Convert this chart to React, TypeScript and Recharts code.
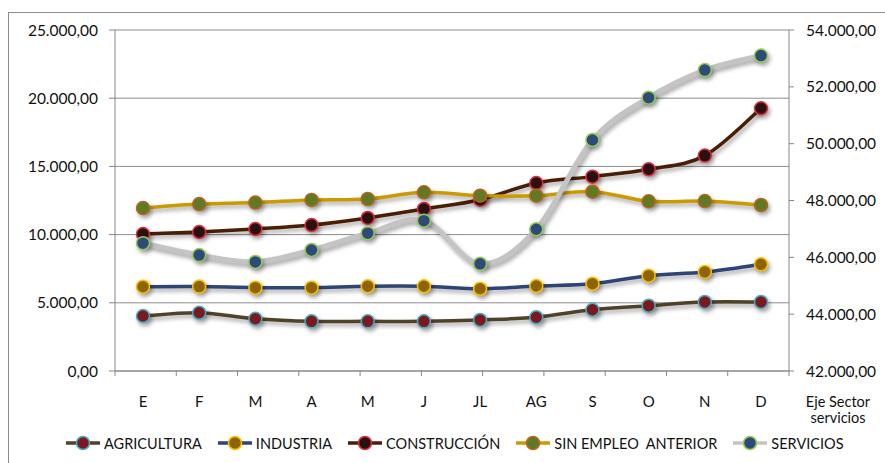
import React from 'react';
import { LineChart, Line, XAxis, YAxis, CartesianGrid } from 'recharts';

const months = ['E', 'F', 'M', 'A', 'M', 'J', 'JL', 'AG', 'S', 'O', 'N', 'D'];
const agricultura = [4030, 4270, 3830, 3640, 3640, 3640, 3740, 3940, 4490, 4790, 5060, 5060];
const industria = [6180, 6190, 6110, 6110, 6210, 6210, 6030, 6230, 6400, 6990, 7260, 7820];
const construccion = [10040, 10190, 10410, 10700, 11220, 11880, 12560, 13780, 14250, 14790, 15790, 19260];
const sinEmpleo = [11950, 12240, 12350, 12540, 12610, 13100, 12850, 12850, 13150, 12440, 12460, 12170];
const servicios = [46500, 46080, 45840, 46260, 46850, 47290, 45770, 46990, 50130, 51620, 52590, 53100];

const leftTicks = [0, 5000, 10000, 15000, 20000, 25000];
const rightTicks = [42000, 44000, 46000, 48000, 50000, 52000, 54000];
const boundaryTicks = [0, 1, 2, 3, 4, 5, 6, 7, 8, 9, 10, 11, 12];

const data = months.map((m, i) => ({
  m,
  agricultura: agricultura[i],
  industria: industria[i],
  construccion: construccion[i],
  sinEmpleo: sinEmpleo[i],
  servicios: servicios[i],
}));

const series = [
  { key: 'agricultura', name: 'AGRICULTURA', line: '#4f4228', fill: '#7a1a1e', stroke: '#4bacc6', width: 3.5, axis: 'left' },
  { key: 'industria', name: 'INDUSTRIA', line: '#2c4477', fill: '#8c6500', stroke: '#ffc000', width: 3.5, axis: 'left' },
  { key: 'construccion', name: 'CONSTRUCCIÓN', line: '#4a1e05', fill: '#2a1010', stroke: '#e03040', width: 3.5, axis: 'left' },
  { key: 'sinEmpleo', name: 'SIN EMPLEO  ANTERIOR', line: '#cc9900', fill: '#5f7a22', stroke: '#b5651d', width: 3.5, axis: 'left' },
  { key: 'servicios', name: 'SERVICIOS', line: '#c4c4c4', fill: '#2f4a7a', stroke: '#92d050', width: 5, axis: 'right' },
];

function fmt(v: number): string {
  const s = Math.round(v).toString();
  const withDots = s.replace(/\B(?=(\d{3})+(?!\d))/g, '.');
  return withDots + ',00';
}

// Excel-like smoothing (uniform Catmull-Rom as cubic Bezier)
const excelCurve: any = (context: any) => {
  let pts: number[][] = [];
  return {
    areaStart() {},
    areaEnd() {},
    lineStart() {
      pts = [];
    },
    lineEnd() {
      if (!pts.length) return;
      context.moveTo(pts[0][0], pts[0][1]);
      for (let i = 0; i < pts.length - 1; i++) {
        const p0 = pts[i - 1] || pts[i];
        const p1 = pts[i];
        const p2 = pts[i + 1];
        const p3 = pts[i + 2] || p2;
        const c1x = p1[0] + (p2[0] - p0[0]) / 6;
        const c1y = p1[1] + (p2[1] - p0[1]) / 6;
        const c2x = p2[0] - (p3[0] - p1[0]) / 6;
        const c2y = p2[1] - (p3[1] - p1[1]) / 6;
        context.bezierCurveTo(c1x, c1y, c2x, c2y, p2[0], p2[1]);
      }
    },
    point(x: number, y: number) {
      pts.push([+x, +y]);
    },
  };
};

const FONT = 'Lato, "Open Sans", sans-serif';
const axisColor = '#868686';
const textColor = '#111';

export default function App() {
  return (
    <div style={{ position: 'relative', width: 885, height: 463, overflow: 'hidden', background: '#fff', fontFamily: FONT }}>
      <style>{`body{margin:0;} .recharts-line .recharts-curve, .recharts-line-dots { filter: drop-shadow(2px 3px 2px rgba(0,0,0,0.35)); }`}</style>
      <div style={{ position: 'absolute', left: 8, top: 12, width: 1000, height: 1000, borderLeft: '1px solid #8c8c8c', borderTop: '1px solid #8c8c8c' }} />
      <div style={{ position: 'absolute', left: 0, top: 0 }}>
        <LineChart width={885} height={463} data={data} margin={{ top: 30, right: 0, left: 0, bottom: 52 }}>
          <CartesianGrid yAxisId="left" vertical={false} stroke="#8c8c8c" strokeWidth={1} />
          <XAxis
            type="number"
            domain={[0, 12]}
            ticks={boundaryTicks}
            tick={() => <g />}
            height={1}
            axisLine={{ stroke: axisColor }}
            tickLine={{ stroke: axisColor }}
            tickSize={5}
            allowDataOverflow
          />
          <XAxis
            xAxisId="cat"
            dataKey="m"
            padding={{ left: 28, right: 28 }}
            height={39}
            axisLine={false}
            tickLine={false}
            tickMargin={18}
            tick={{ fill: textColor, fontSize: 15, fontFamily: FONT }}
            interval={0}
          />
          <YAxis
            yAxisId="left"
            width={115}
            domain={[0, 25000]}
            ticks={leftTicks}
            tickFormatter={fmt}
            axisLine={{ stroke: axisColor }}
            tickLine={{ stroke: axisColor }}
            tickSize={6}
            tickMargin={11}
            tick={{ fill: textColor, fontSize: 15.5, fontFamily: FONT }}
          />
          <YAxis
            yAxisId="right"
            orientation="right"
            width={96}
            domain={[42000, 54000]}
            ticks={rightTicks}
            tickFormatter={fmt}
            axisLine={{ stroke: axisColor }}
            tickLine={{ stroke: axisColor }}
            tickSize={5}
            tickMargin={12}
            tick={{ fill: textColor, fontSize: 15.5, fontFamily: FONT, textAnchor: 'start' }}
          />
          {series.map((s) => (
            <Line
              key={s.key}
              xAxisId="cat"
              yAxisId={s.axis}
              dataKey={s.key}
              name={s.name}
              type={excelCurve}
              stroke={s.line}
              strokeWidth={s.width}
              dot={{ r: 6.5, fill: s.fill, stroke: s.stroke, strokeWidth: 1.5 }}
              activeDot={false}
              isAnimationActive={false}
            />
          ))}
        </LineChart>
      </div>
      <div style={{ position: 'absolute', left: 798, top: 394, width: 80, textAlign: 'center', fontSize: 14.5, lineHeight: '16px', color: textColor }}>
        Eje Sector<br />servicios
      </div>
      <div style={{ position: 'absolute', left: 66, top: 434, display: 'flex', alignItems: 'center', gap: 16, fontSize: 14.5, color: textColor, whiteSpace: 'pre' }}>
        {series.map((s) => (
          <div key={s.key} style={{ display: 'flex', alignItems: 'center' }}>
            <svg width={34} height={18} style={{ marginRight: 4 }}>
              <line x1={0} y1={9} x2={34} y2={9} stroke={s.line} strokeWidth={3.5} />
              <circle cx={17} cy={9} r={6.5} fill={s.fill} stroke={s.stroke} strokeWidth={1.5} />
            </svg>
            <span>{s.name}</span>
          </div>
        ))}
      </div>
    </div>
  );
}
